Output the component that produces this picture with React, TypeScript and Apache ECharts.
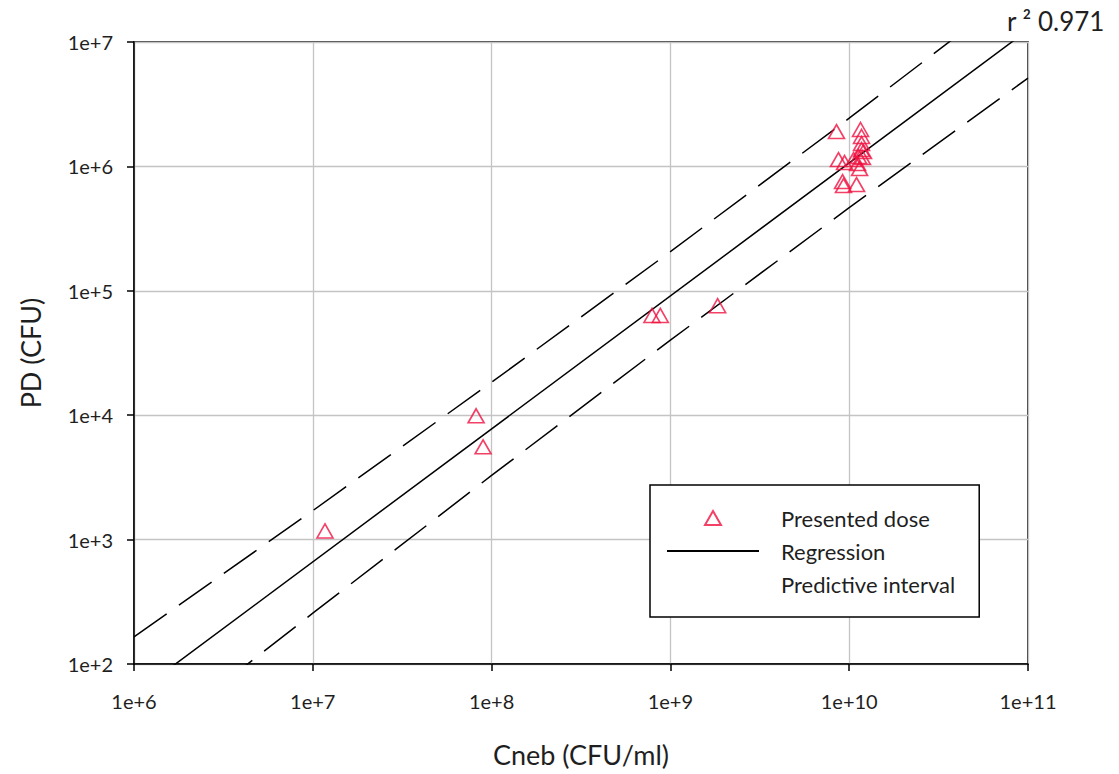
import React, { useEffect, useRef } from "react";
import * as echarts from "echarts";

// Presented dose observations: nebuliser concentration (CFU/ml) vs presented dose (CFU)
const cnebValues = [
  1.17e7, 8.19e7, 8.96e7, 7.89e8, 8.78e8, 1.837e9,
  8.49e9, 1.157e10, 1.172e10, 1.172e10, 1.172e10, 8.71e9, 9.42e9, 1.057e10,
  1.128e10, 1.186e10, 1.114e10, 1.143e10, 9.18e9, 9.29e9, 1.099e10, 1.202e10,
];
const pdValues = [
  1.175e3, 9.89e3, 5.57e3, 6.34e4, 6.34e4, 7.59e4,
  1.905e6, 1.98e6, 1.738e6, 1.525e6, 1.365e6, 1.135e6, 1.074e6, 1.135e6,
  1.199e6, 1.178e6, 1.054e6, 9.6e5, 7.55e5, 7.01e5, 7.14e5, 1.315e6,
];

// Regression line end points
const regressionX = [1e6, 1e11];
const regressionY = [56.5, 1.25e7];

// Predictive interval bounds, read at each decade of Cneb
const intervalX = [1e6, 1e7, 1e8, 1e9, 1e10, 1e11];
const intervalUpper = [165, 1710, 18400, 206500, 2.44e6, 3.05e7];
const intervalLower = [19.4, 256, 3280, 40100, 4.66e5, 5.13e6];

const xTicks = ["1e+6", "1e+7", "1e+8", "1e+9", "1e+10", "1e+11"];
const yTicks = ["1e+2", "1e+3", "1e+4", "1e+5", "1e+6", "1e+7"];

const rSquared = "0.971";

const FONT = "Lato";
const TEXT = "#1f1f1f";
const RED = "#f01040";
// Outline triangle used for the legend entry, so it keeps its proportions
const TRIANGLE_ICON = "path://M8,0L16,14L0,14Z";

const zip = (xs: number[], ys: number[]) => xs.map((x, i) => [x, ys[i]]);

const expLabel = (ticks: string[], minExp: number) => (v: number) => {
  const e = Math.round(Math.log10(v));
  return ticks[e - minExp] ?? "";
};

export default function App() {
  const ref = useRef<HTMLDivElement>(null);

  useEffect(() => {
    if (!ref.current) return;
    const chart = echarts.init(ref.current, undefined, { renderer: "svg" });

    const axisCommon = {
      type: "log" as const,
      logBase: 10,
      axisLine: { show: true, lineStyle: { color: "#000", width: 1.5 } },
      axisTick: { show: true, inside: false, length: 7, lineStyle: { color: "#000", width: 1.5 } },
      splitLine: { show: true, lineStyle: { color: "#c4c4c4", width: 1.3 } },
      minorTick: { show: false },
      minorSplitLine: { show: false },
      nameLocation: "middle" as const,
      nameTextStyle: { fontFamily: FONT, fontSize: 27, color: TEXT },
    };

    chart.setOption({
      animation: false,
      backgroundColor: "#fff",
      grid: {
        left: 134,
        right: 91,
        top: 42,
        bottom: 110,
        show: true,
        borderColor: "#000",
        borderWidth: 1.5,
        backgroundColor: "transparent",
      },
      xAxis: {
        ...axisCommon,
        min: 1e6,
        max: 1e11,
        splitNumber: 5,
        name: "Cneb (CFU/ml)",
        nameGap: 77,
        axisLabel: {
          formatter: expLabel(xTicks, 6),
          fontFamily: FONT,
          fontSize: 20,
          color: TEXT,
          margin: 27,
        },
      },
      yAxis: {
        ...axisCommon,
        min: 1e2,
        max: 1e7,
        splitNumber: 5,
        name: "PD (CFU)",
        nameGap: 90,
        axisLabel: {
          formatter: expLabel(yTicks, 2),
          fontFamily: FONT,
          fontSize: 20,
          color: TEXT,
          margin: 21,
        },
      },
      legend: {
        orient: "vertical",
        left: 650,
        top: 485,
        padding: [22, 24, 22, 16],
        borderColor: "#000",
        borderWidth: 1.5,
        backgroundColor: "#fff",
        itemWidth: 92,
        itemHeight: 14,
        itemGap: 11,
        selectedMode: false,
        symbolKeepAspect: true,
        textStyle: {
          fontFamily: FONT,
          fontSize: 22,
          color: TEXT,
          lineHeight: 22,
          padding: [0, 0, 0, 17],
        },
        data: [
          { name: "Presented dose", icon: TRIANGLE_ICON },
          { name: "Regression", itemStyle: { opacity: 0 } },
          { name: "Predictive interval", lineStyle: { opacity: 0 }, itemStyle: { opacity: 0 } },
        ],
      },
      graphic: [
        {
          type: "text",
          left: 1007,
          top: 8,
          style: { text: "r ² " + rSquared, font: `26px ${FONT}`, fill: TEXT },
        },
      ],
      series: [
        {
          name: "Predictive interval",
          type: "line",
          data: zip(intervalX, intervalUpper),
          symbol: "none",
          clip: true,
          lineStyle: { color: "#000", width: 1.5, type: [40, 15] },
          z: 2,
        },
        {
          name: "Predictive interval",
          type: "line",
          data: zip(intervalX, intervalLower),
          symbol: "none",
          clip: true,
          lineStyle: { color: "#000", width: 1.5, type: [40, 15] },
          z: 2,
        },
        {
          name: "Regression",
          type: "line",
          data: zip(regressionX, regressionY),
          symbol: "none",
          clip: true,
          lineStyle: { color: "#000", width: 1.5 },
          z: 3,
        },
        {
          name: "Presented dose",
          type: "scatter",
          data: zip(cnebValues, pdValues),
          symbol: "triangle",
          symbolSize: [16, 14],
          itemStyle: { color: "rgba(0,0,0,0)", borderColor: RED, borderWidth: 1.6 },
          z: 4,
        },
      ],
    });

    return () => chart.dispose();
  }, []);

  return (
    <div
      ref={ref}
      style={{ position: "fixed", left: 0, top: 0, width: 1119, height: 774 }}
    />
  );
}
